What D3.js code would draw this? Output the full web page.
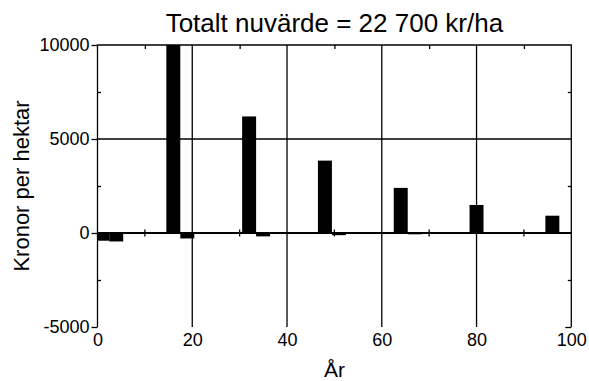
<!DOCTYPE html>
<html>
<head>
<meta charset="utf-8">
<script src="https://cdn.jsdelivr.net/npm/d3@7"></script>
<style>
  html, body { margin: 0; padding: 0; background: #fff; }
  svg { display: block; }
  text { font-family: "Liberation Sans", Arial, sans-serif; fill: #000; }
</style>
</head>
<body>
<svg id="chart" width="589" height="381"></svg>
<script>
// Years at which each pair of cash flows occurs
const years = [1, 16, 32, 48, 64, 80, 96];
// First bar of each pair (kr/ha)
const flowA = [-410, 10000, 6200, 3850, 2400, 1490, 920];
// Second bar of each pair (kr/ha)
const flowB = [-450, -290, -180, -115, -70, -45, -28];

const xTicks = [0, 20, 40, 60, 80, 100];
const xGrid = [20, 40, 60, 80];
const xMinor = [10, 30, 50, 70, 90];
const yTicks = [-5000, 0, 5000, 10000];
const yMinor = [-2500, 2500, 7500];

const titleText = "Totalt nuvärde = 22 700 kr/ha";
const xLabel = "År";
const yLabel = "Kronor per hektar";

const barYears = 2.95; // width of one bar in years

const svg = d3.select("#chart");
const x = d3.scaleLinear().domain([0, 100]).range([97.5, 571.3]);
const y = d3.scaleLinear().domain([-5000, 10000]).range([327, 45]);
const plain = d => String(d).replace("−", "-");

const lineW = 1.3;
const FONT = "Liberation Sans, Arial, sans-serif";

svg.append("defs").append("clipPath").attr("id", "plot")
  .append("rect")
  .attr("x", x(0)).attr("y", y(10000))
  .attr("width", x(100) - x(0)).attr("height", y(-5000) - y(10000));

// grid lines
const grid = svg.append("g").attr("stroke", "#000").attr("stroke-width", lineW);
grid.selectAll("line.vx").data(xGrid).join("line")
  .attr("x1", d => x(d)).attr("x2", d => x(d))
  .attr("y1", y(10000)).attr("y2", y(-5000));
grid.append("line")
  .attr("x1", x(0)).attr("x2", x(100))
  .attr("y1", y(5000)).attr("y2", y(5000));

// bars
const bars = svg.append("g").attr("clip-path", "url(#plot)").attr("fill", "#000");
bars.selectAll("rect.a").data(years).join("rect")
  .attr("x", d => x(d - barYears / 2))
  .attr("width", d => x(d + barYears / 2) - x(d - barYears / 2))
  .attr("y", (d, i) => y(Math.max(0, flowA[i])))
  .attr("height", (d, i) => Math.abs(y(flowA[i]) - y(0)));
bars.selectAll("rect.b").data(years).join("rect")
  .attr("x", d => x(d + barYears / 2))
  .attr("width", d => x(d + 1.5 * barYears) - x(d + barYears / 2))
  .attr("y", (d, i) => y(Math.max(0, flowB[i])))
  .attr("height", (d, i) => Math.abs(y(flowB[i]) - y(0)));

// zero line with crossing minor ticks
svg.append("line")
  .attr("x1", x(0)).attr("x2", x(100))
  .attr("y1", y(0)).attr("y2", y(0))
  .attr("stroke", "#000").attr("stroke-width", 2);
svg.append("g").selectAll("line").data(xMinor).join("line")
  .attr("x1", d => x(d)).attr("x2", d => x(d))
  .attr("y1", y(0) - 3.5).attr("y2", y(0) + 3.5)
  .attr("stroke", "#000").attr("stroke-width", lineW);

// frame: left, top, right
svg.append("path")
  .attr("d", `M${x(0)},${y(-5000)}V${y(10000)}H${x(100)}V${y(-5000)}`)
  .attr("stroke", "#000").attr("stroke-width", lineW).attr("fill", "none");

// left axis with labels
const left = svg.append("g").attr("transform", `translate(${x(0)},0)`)
  .call(d3.axisLeft(y).tickValues(yTicks).tickFormat(plain)
    .tickSize(6).tickSizeOuter(0).tickPadding(2));
left.select(".domain").remove();
left.selectAll("line").attr("stroke-width", lineW);
left.selectAll("text").attr("font-size", 18).attr("font-family", FONT);

// inward minor ticks on left and right edges
svg.append("g").attr("transform", `translate(${x(0)},0)`)
  .call(d3.axisRight(y).tickValues(yMinor).tickSize(3.5).tickFormat(""))
  .call(g => g.select(".domain").remove())
  .selectAll("line").attr("stroke-width", lineW);
svg.append("g").attr("transform", `translate(${x(100)},0)`)
  .call(d3.axisLeft(y).tickValues(yMinor).tickSize(3.5).tickFormat(""))
  .call(g => g.select(".domain").remove())
  .selectAll("line").attr("stroke-width", lineW);
svg.append("g").attr("transform", `translate(${x(100)},0)`)
  .call(d3.axisLeft(y).tickValues([-5000]).tickSize(6).tickFormat(""))
  .call(g => g.select(".domain").remove())
  .selectAll("line").attr("stroke-width", lineW);

// top minor ticks
svg.append("g").attr("transform", `translate(0,${y(10000)})`)
  .call(d3.axisBottom(x).tickValues(xMinor).tickSize(4).tickFormat(""))
  .call(g => g.select(".domain").remove())
  .selectAll("line").attr("stroke-width", lineW);

// bottom labels
const bottom = svg.append("g").attr("transform", `translate(0,${y(-5000)})`)
  .call(d3.axisBottom(x).tickValues(xTicks).tickFormat(plain).tickSize(0).tickPadding(6));
bottom.select(".domain").remove();
bottom.selectAll("text").attr("font-size", 18).attr("font-family", FONT);

// titles
svg.append("text")
  .attr("x", (x(0) + x(100)) / 2).attr("y", 32)
  .attr("text-anchor", "middle").attr("font-size", 26)
  .text(titleText);
svg.append("text")
  .attr("x", (x(0) + x(100)) / 2).attr("y", 377)
  .attr("text-anchor", "middle").attr("font-size", 21)
  .text(xLabel);
svg.append("text")
  .attr("transform", `translate(29,${(y(10000) + y(-5000)) / 2}) rotate(-90)`)
  .attr("text-anchor", "middle").attr("font-size", 22)
  .text(yLabel);
</script>
</body>
</html>
